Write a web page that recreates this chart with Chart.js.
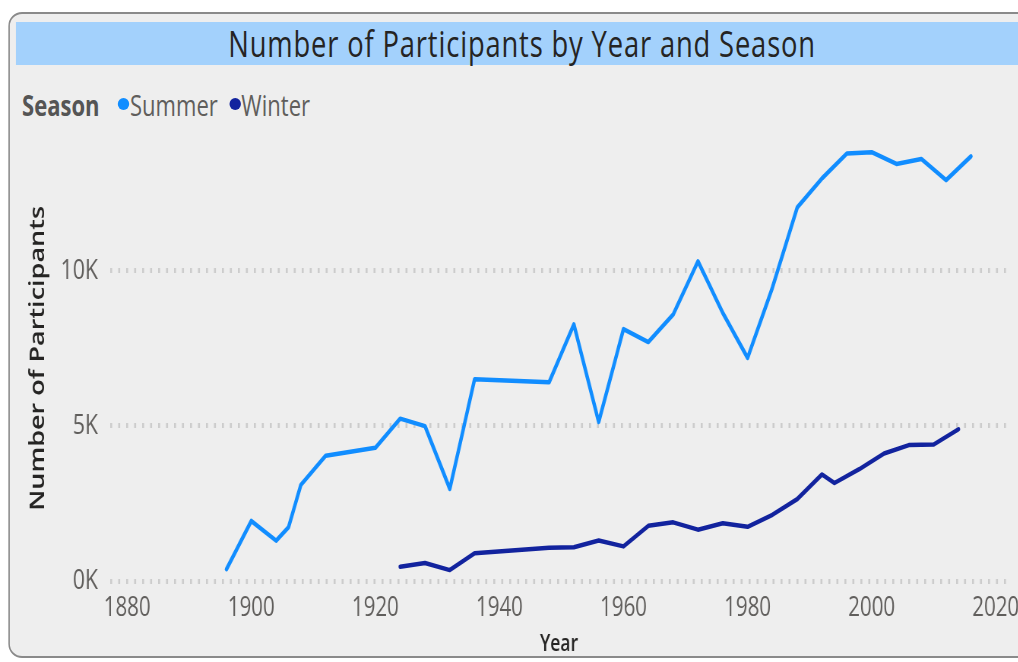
<!DOCTYPE html>
<html>
<head>
<meta charset="utf-8">
<script src="https://cdn.jsdelivr.net/npm/chart.js@4.4.1/dist/chart.umd.min.js"></script>
<style>
  html, body { margin: 0; padding: 0; background: #ffffff; width: 1018px; height: 662px; overflow: hidden; }
  #wrap { position: absolute; left: 0; top: 0; width: 1420px; height: 662px; transform: scaleX(0.76); transform-origin: 0 0; }
  #card { position: absolute; left: 10.5px; top: 12px; width: 1420px; height: 642px; background: #eeeeee;
          border: 2px solid #8a8a8a; border-radius: 18px / 14px; }
  #banner { position: absolute; left: 21px; top: 22px; width: 1332px; height: 43px; background: #a3d1fc;
            font-family: "Open Sans", sans-serif; font-size: 36px; letter-spacing: 1.1px; color: #252423; text-align: center; line-height: 43px; }
  #legend { position: absolute; left: 29px; top: 88px; height: 32px; display: flex; align-items: center;
            font-family: "Open Sans", sans-serif; font-size: 29px; color: #605e5c; white-space: nowrap; }
  #legend .ttl { font-weight: 700; color: #555555; margin-right: 24px; }
  #legend .dot { display: inline-block; width: 15px; height: 12px; border-radius: 50%; margin-right: 1px; }
  #legend .item { display: flex; align-items: center; margin-right: 15px; }
  #chartbox { position: absolute; left: 21px; top: 99px; width: 1360px; height: 561px; }
</style>
</head>
<body>
<div id="wrap">
  <div id="card"></div>
  <div id="banner">Number of Participants by Year and Season</div>
  <div id="legend">
    <span class="ttl">Season</span>
    <span class="item"><span class="dot" style="background:#118DFF"></span>Summer</span>
    <span class="item"><span class="dot" style="background:#12239E"></span>Winter</span>
  </div>
  <div id="chartbox"><canvas id="c" width="1360" height="561"></canvas></div>
</div>
<script>
const summerYears  = [1896,1900,1904,1906,1908,1912,1920,1924,1928,1932,1936,1948,1952,1956,1960,1964,1968,1972,1976,1980,1984,1988,1992,1996,2000,2004,2008,2012,2016];
const summerValues = [380,1936,1301,1733,3101,4040,4292,5233,4992,2969,6506,6405,8270,5127,8119,7702,8588,10304,8641,7191,9454,12037,12977,13780,13821,13443,13602,12920,13688];
const winterYears  = [1924,1928,1932,1936,1948,1952,1956,1960,1964,1968,1972,1976,1980,1984,1988,1992,1994,1998,2002,2006,2010,2014];
const winterValues = [460,582,352,895,1075,1088,1307,1116,1778,1891,1655,1861,1746,2134,2639,3436,3160,3605,4109,4382,4402,4891];
const xTickValues = [1880,1900,1920,1940,1960,1980,2000,2020];
const yTickValues = [0,5000,10000];

const toPts = (xs, ys) => xs.map((x, i) => ({x: x, y: ys[i]}));

new Chart(document.getElementById('c'), {
  type: 'line',
  data: {
    datasets: [
      { label: 'Summer', data: toPts(summerYears, summerValues), borderColor: '#118DFF', backgroundColor: '#118DFF',
        borderWidth: 4.5, pointRadius: 0, tension: 0, borderJoinStyle: 'round', borderCapStyle: 'round' },
      { label: 'Winter', data: toPts(winterYears, winterValues), borderColor: '#12239E', backgroundColor: '#12239E',
        borderWidth: 4.5, pointRadius: 0, tension: 0, borderJoinStyle: 'round', borderCapStyle: 'round' }
    ]
  },
  options: {
    responsive: false,
    animation: false,
    devicePixelRatio: 1,
    layout: { padding: { left: 0, right: 55, top: 5, bottom: 0 } },
    plugins: { legend: { display: false }, title: { display: false }, tooltip: { enabled: false } },
    scales: {
      x: {
        type: 'linear', min: 1877.26, max: 2021.94,
        afterBuildTicks: s => { s.ticks = xTickValues.map(v => ({value: v})); },
        afterFit: s => { s.height = 75; },
        grid: { display: false, drawTicks: false },
        border: { display: false },
        ticks: { padding: 7, maxRotation: 0, autoSkip: false, color: '#605e5c',
                 font: { family: 'Open Sans', size: 27 }, callback: v => String(v) },
        title: { display: true, text: 'Year', color: '#252423', padding: { top: 0, bottom: 2 },
                 font: { family: 'Open Sans', size: 23, weight: '600' } }
      },
      y: {
        type: 'linear', min: -128, max: 14478,
        afterBuildTicks: s => { s.ticks = yTickValues.map(v => ({value: v})); },
        afterFit: s => { s.width = 124; },
        grid: { display: true, drawTicks: false, color: '#cccccc', lineWidth: 5 },
        border: { display: false, dash: [2.6, 7.9] },
        ticks: { padding: 16, color: '#605e5c', font: { family: 'Open Sans', size: 28 },
                 callback: v => (v / 1000) + 'K' },
        title: { display: true, text: 'Number of Participants', color: '#252423', padding: { top: 13, bottom: 0 },
                 font: { family: 'Open Sans', size: 27, weight: '600' } }
      }
    }
  }
});
</script>
</body>
</html>
